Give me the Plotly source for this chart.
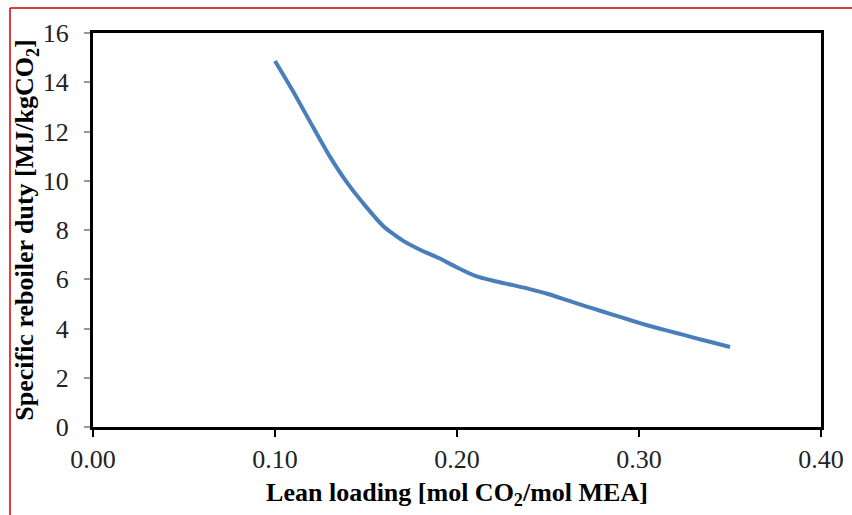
import plotly.graph_objects as go

lean_loading = [0.10, 0.11, 0.12, 0.13, 0.14, 0.15, 0.16, 0.17, 0.18, 0.19,
                0.20, 0.21, 0.22, 0.23, 0.24, 0.25, 0.26, 0.27, 0.28, 0.29,
                0.30, 0.31, 0.32, 0.33, 0.34, 0.35]
reboiler_duty = [14.86, 13.62, 12.3, 11.0, 9.88, 8.95, 8.12, 7.58, 7.19, 6.86,
                 6.48, 6.14, 5.94, 5.77, 5.6, 5.4, 5.16, 4.92, 4.69, 4.46,
                 4.23, 4.02, 3.83, 3.63, 3.44, 3.25]

x_ticks = [0.0, 0.1, 0.2, 0.3, 0.4]
y_ticks = [0, 2, 4, 6, 8, 10, 12, 14, 16]

W, H = 852, 515
ML, MR, MT, MB = 93, 31, 33, 88
pw, ph = W - ML - MR, H - MT - MB

fig = go.Figure()
fig.add_trace(go.Scatter(
    x=lean_loading, y=reboiler_duty, mode="lines",
    line=dict(color="#4A7EBB", width=4, shape="spline", smoothing=0.5),
    showlegend=False, hoverinfo="skip"))

font_family = "Liberation Serif"
fig.update_layout(
    width=W, height=H,
    margin=dict(l=ML, r=MR, t=MT, b=MB, autoexpand=False),
    paper_bgcolor="white", plot_bgcolor="white",
    font=dict(family=font_family, color="black", size=26),
    xaxis=dict(
        range=[0, 0.4], tickvals=x_ticks, tickformat=".2f",
        showgrid=False, zeroline=False,
        showline=True, linecolor="black", linewidth=3, mirror=True,
        ticks="outside", ticklen=7, tickwidth=2, tickcolor="black",
        tickfont=dict(family=font_family, size=26, color="#222"),
        title=dict(text="<b>Lean loading [mol CO<sub>2</sub>/mol MEA]</b>",
                   font=dict(family=font_family, size=26, color="black"),
                   standoff=10),
        automargin=False,
    ),
    yaxis=dict(
        range=[0, 16], tickvals=y_ticks,
        showgrid=False, zeroline=False,
        showline=True, linecolor="black", linewidth=3, mirror=True,
        ticks="outside", ticklen=6, tickwidth=1.5, tickcolor="#999",
        tickfont=dict(family=font_family, size=26, color="#222"),
        ticklabelstandoff=10,
        title=dict(text="<b>Specific reboiler duty [MJ/kgCO<sub>2</sub>]</b>",
                   font=dict(family=font_family, size=26, color="black"),
                   standoff=0),
        automargin=False,
    ),
    shapes=[
        dict(type="line", xref="paper", yref="paper",
             x0=(10 - ML) / pw, x1=(W - ML) / pw,
             y0=(H - MB - 8) / ph, y1=(H - MB - 8) / ph,
             line=dict(color="#CC0000", width=1.5)),
        dict(type="line", xref="paper", yref="paper",
             x0=(10 - ML) / pw, x1=(10 - ML) / pw,
             y0=(H - MB - 8) / ph, y1=-MB / ph,
             line=dict(color="#CC0000", width=1.5)),
    ],
)

fig.write_html("out.html")
